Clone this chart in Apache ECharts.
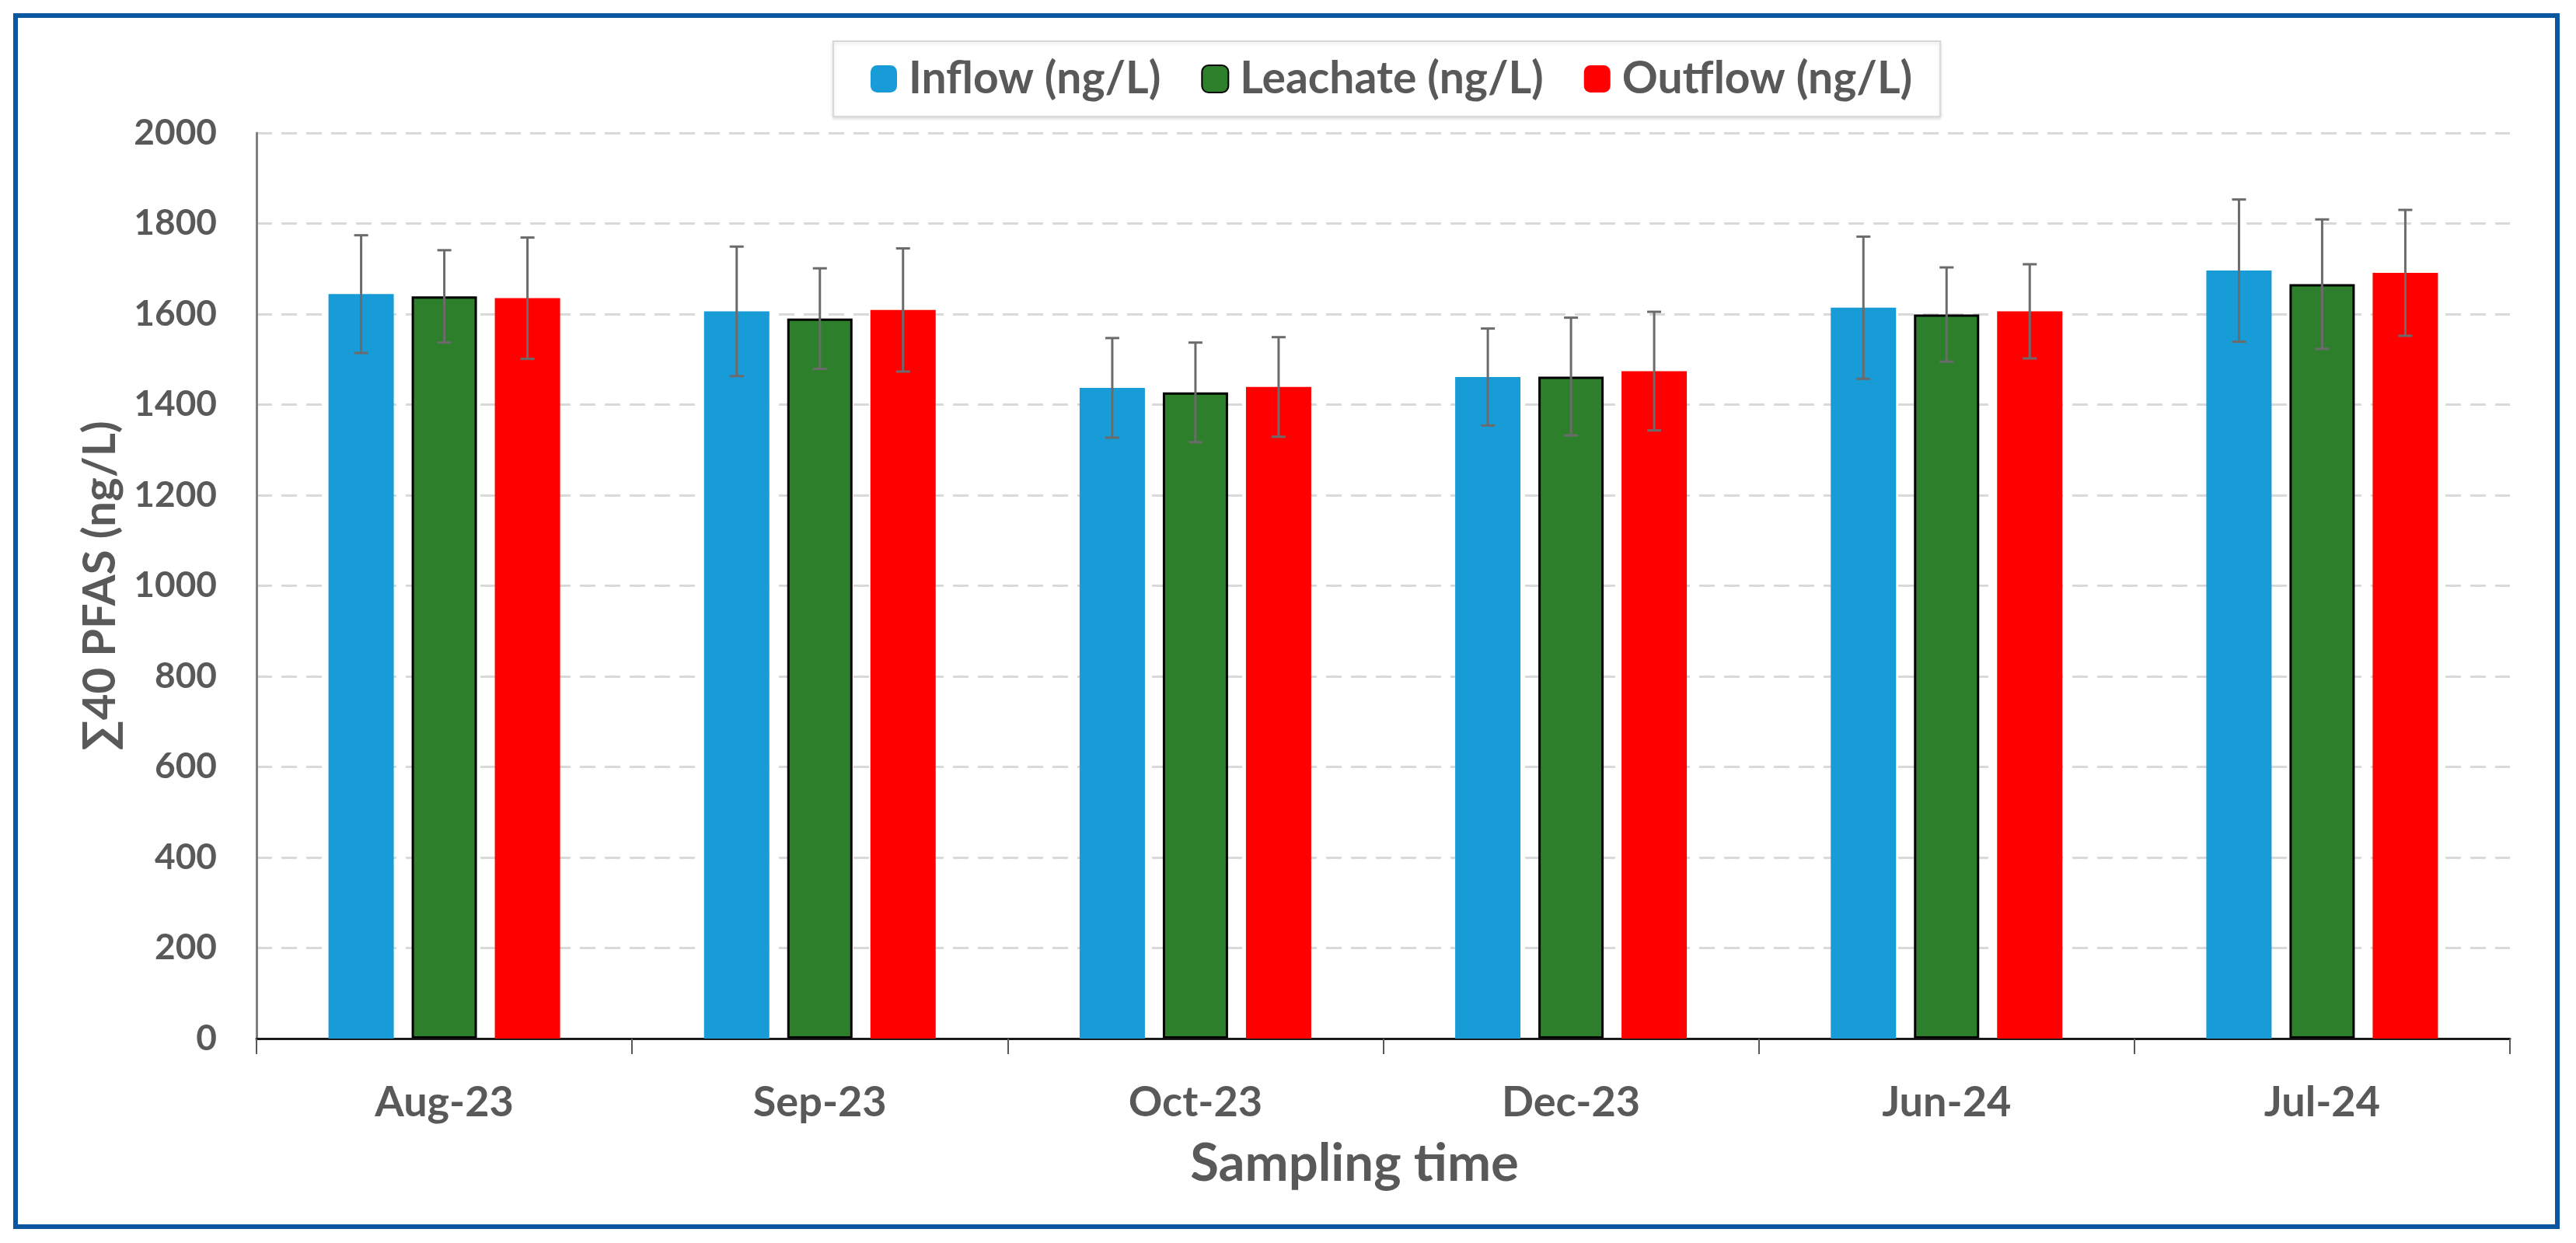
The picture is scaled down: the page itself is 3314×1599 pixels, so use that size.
<!DOCTYPE html>
<html>
<head>
<meta charset="utf-8">
<script src="https://cdn.jsdelivr.net/npm/echarts@6/dist/echarts.min.js"></script>
<style>
html,body{margin:0;padding:0;background:#fff;}
#c{width:3314px;height:1599px;}
</style>
</head>
<body>
<div id="c"></div>
<script>
const categories = ['Aug-23', 'Sep-23', 'Oct-23', 'Dec-23', 'Jun-24', 'Jul-24'];
const seriesNames = ['Inflow (ng/L)', 'Leachate (ng/L)', 'Outflow (ng/L)'];
const inflow   = [1644, 1606, 1437, 1461, 1614, 1696];
const leachate = [1639, 1590, 1427, 1462, 1599, 1666];
const outflow  = [1635, 1609, 1439, 1474, 1606, 1691];
const inflowErr   = [130, 143, 110, 107, 157, 157];
const leachateErr = [102, 111, 110, 130, 104, 143];
const outflowErr  = [134, 136, 110, 131, 104, 139];

const BAR_W = 84, BAR_GAP = 23;
const FONT = 'Lato';
const TXT = '#595959';

function errSeries(vals, errs, idx) {
  return {
    type: 'custom',
    z: 10,
    silent: true,
    data: vals.map((v, i) => [i, v, errs[i]]),
    renderItem: function (params, api) {
      const c = api.value(0), v = api.value(1), e = api.value(2);
      const top = api.coord([c, v + e]);
      const bot = api.coord([c, v - e]);
      const x = top[0] + (idx - 1) * (BAR_W + BAR_GAP);
      const hw = 9;
      const st = { stroke: '#6b6b6b', lineWidth: 3 };
      return {
        type: 'group',
        children: [
          { type: 'line', shape: { x1: x, y1: top[1], x2: x, y2: bot[1] }, style: st },
          { type: 'line', shape: { x1: x - hw, y1: top[1], x2: x + hw, y2: top[1] }, style: st },
          { type: 'line', shape: { x1: x - hw, y1: bot[1], x2: x + hw, y2: bot[1] }, style: st }
        ]
      };
    }
  };
}

const chart = echarts.init(document.getElementById('c'));
chart.setOption({
  backgroundColor: '#fff',
  animation: false,
  graphic: [{
    type: 'rect', z: 100, silent: true,
    shape: { x: 20, y: 20, width: 3270, height: 1558 },
    style: { fill: 'none', stroke: '#0b56a0', lineWidth: 6 }
  }],
  legend: {
    left: 1072, top: 53,
    data: seriesNames,
    itemWidth: 34, itemHeight: 35,
    itemGap: 52,
    padding: [20, 36, 20, 48],
    backgroundColor: '#fff',
    borderColor: '#d9d9d9', borderWidth: 2,
    shadowColor: 'rgba(0,0,0,0.12)', shadowBlur: 4, shadowOffsetY: 2,
    textStyle: { fontFamily: FONT, fontWeight: 'bold', fontSize: 57, color: TXT, padding: [0, 0, 0, 10] }
  },
  grid: { left: 330, right: 85, top: 171, bottom: 263 },
  xAxis: {
    type: 'category',
    data: categories,
    name: 'Sampling time',
    nameLocation: 'middle',
    nameGap: 128,
    nameTextStyle: { fontFamily: FONT, fontWeight: 'bold', fontSize: 67, color: TXT, padding: [0, 74, 0, 0] },
    axisLine: { lineStyle: { color: '#1a1a1a', width: 3 } },
    axisTick: { show: true, length: 20, lineStyle: { color: '#595959', width: 2 } },
    axisLabel: { fontFamily: FONT, fontWeight: 'bold', fontSize: 54, color: TXT, margin: 56 },
    splitLine: { show: false }
  },
  yAxis: {
    type: 'value',
    min: 0, max: 2000, interval: 200,
    name: '\u221140 PFAS (ng/L)',
    nameLocation: 'middle',
    nameGap: 172,
    nameTextStyle: { fontFamily: FONT, fontWeight: 'bold', fontSize: 58, color: TXT },
    axisLine: { show: true, lineStyle: { color: '#7f7f7f', width: 3 } },
    axisTick: { show: false },
    axisLabel: { fontFamily: FONT, fontWeight: 'bold', fontSize: 46, color: TXT, margin: 51,
      formatter: function (v) { return String(v); } },
    splitLine: { show: true, lineStyle: { color: '#d9d9d9', width: 3, type: [20, 12] } }
  },
  series: [
    { name: seriesNames[0], type: 'bar', data: inflow, barWidth: BAR_W, barGap: (BAR_GAP / BAR_W * 100) + '%',
      itemStyle: { color: '#189cd8' } },
    { name: seriesNames[1], type: 'bar', data: leachate, barWidth: BAR_W, barGap: (BAR_GAP / BAR_W * 100) + '%',
      itemStyle: { color: '#2e7f2b', borderColor: '#000', borderWidth: 3 } },
    { name: seriesNames[2], type: 'bar', data: outflow, barWidth: BAR_W, barGap: (BAR_GAP / BAR_W * 100) + '%',
      itemStyle: { color: '#ff0000' } },
    errSeries(inflow, inflowErr, 0),
    errSeries(leachate, leachateErr, 1),
    errSeries(outflow, outflowErr, 2)
  ]
});
</script>
</body>
</html>
